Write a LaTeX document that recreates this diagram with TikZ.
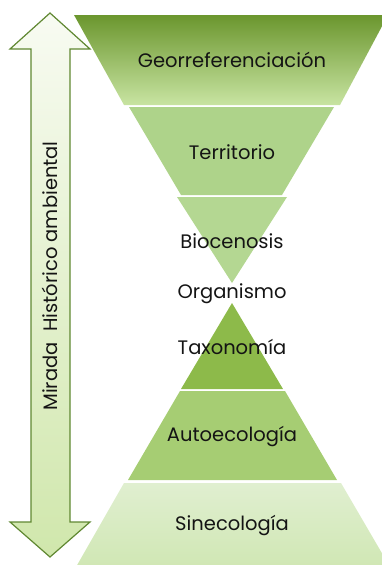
\documentclass[tikz,border=0pt]{standalone}
\usepackage{fontspec}
\setmainfont{Poppins}
\definecolor{gatop}{RGB}{107,150,46}
\definecolor{gamid}{RGB}{155,202,88}
\definecolor{gabot}{RGB}{200,228,162}
\definecolor{terr}{RGB}{174,211,138}
\definecolor{bioc}{RGB}{180,215,146}
\definecolor{taxo}{RGB}{141,186,74}
\definecolor{autoc}{RGB}{166,205,115}
\definecolor{sitop}{RGB}{224,239,208}
\definecolor{sibot}{RGB}{208,231,180}
\definecolor{artop}{RGB}{248,251,242}
\definecolor{arbot}{RGB}{208,231,172}
\definecolor{arline}{RGB}{96,136,50}
\definecolor{txt}{RGB}{20,20,20}
\begin{document}
\begin{tikzpicture}[x=1pt,y=-1pt,
  lbl/.style={font=\fontsize{19.5}{22}\selectfont, text=txt, inner sep=0pt},
  seg/.style={draw=none}]
\useasboundingbox (0,0) rectangle (382,565);
% left double arrow
\shade[top color=artop, bottom color=arbot, draw=arline, line width=1.2pt, line join=miter]
  (50,13) -- (90,49) -- (70,49) -- (70,522) -- (90,522) -- (50,557) -- (10,522) -- (31,522) -- (31,49) -- (10,49) -- cycle;
% top inverted pyramid
\shade[seg, top color=gatop, middle color=gamid, bottom color=gabot]
  (74,15) -- (388,15) -- (340,105) -- (124,105) -- cycle;
\fill[terr] (129,107) -- (334,107) -- (282,195) -- (181,195) -- cycle;
\fill[bioc] (177,197) -- (287,197) -- (232,283) -- cycle;
% bottom pyramid
\fill[taxo] (232,303) -- (283,389) -- (181,389) -- cycle;
\fill[autoc] (180,391) -- (285,391) -- (337,480) -- (128,480) -- cycle;
\shade[seg, top color=sitop, bottom color=sibot]
  (124,483) -- (341,483) -- (390,567) -- (76,567) -- cycle;
% labels
\node[lbl] (geo) at (232,60) {Georreferenciación};
\node[lbl] (ter) at (232,152) {Territorio};
\node[lbl] (bio) at (232,241) {Biocenosis};
\node[lbl] (org) at (232,294) {Organismo};
\node[lbl] (tax) at (232,347) {Taxonomía};
\node[lbl] (aut) at (232,437) {Autoecología};
\node[lbl] (sin) at (232,526) {Sinecología};
\node[lbl, rotate=90] (mir) at (50,276) {Mirada\ \ Histórico ambiental};
\end{tikzpicture}
\end{document}
